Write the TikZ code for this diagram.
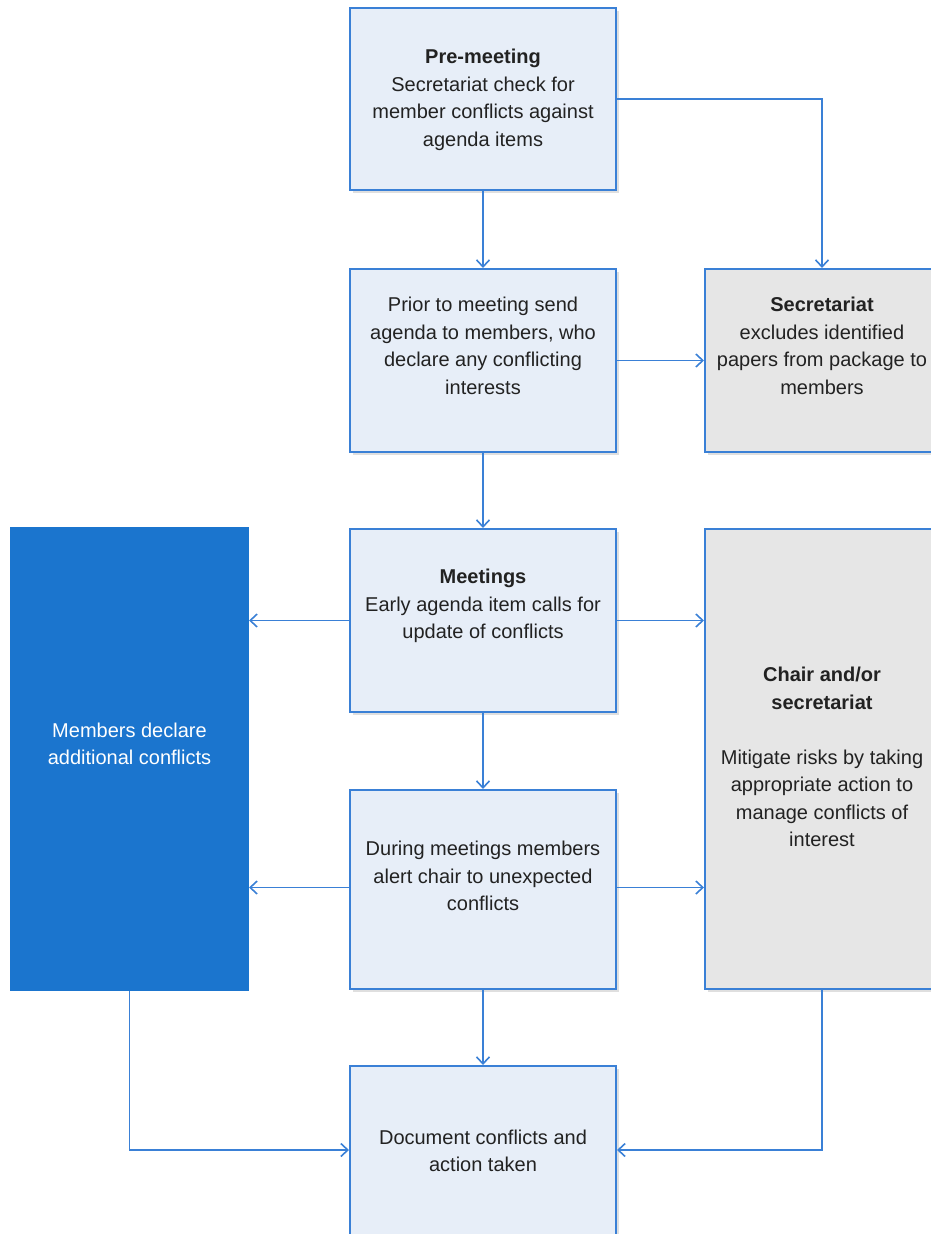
\documentclass[tikz,border=0pt]{standalone}
\usepackage{fontspec}
\setmainfont{Liberation Sans}
\usetikzlibrary{arrows.meta,shadows,calc}
\definecolor{lineblue}{HTML}{3A80D6}
\definecolor{lightfill}{HTML}{E7EEF8}
\definecolor{grayfill}{HTML}{E6E6E6}
\definecolor{darkblue}{HTML}{1B75CE}
\definecolor{txt}{HTML}{222222}
\begin{document}
\begin{tikzpicture}[x=1pt,y=-1pt,
  box/.style={draw=lineblue,line width=2pt,fill=lightfill,inner sep=0pt,
    drop shadow={shadow xshift=2.5pt,shadow yshift=-2.5pt,opacity=0.25,fill=gray}},
  graybox/.style={box,fill=grayfill},
  bluebox/.style={draw=darkblue,line width=2pt,fill=darkblue,inner sep=0pt},
  txtnode/.style={align=center,text=txt,inner sep=0pt,font=\fontsize{20}{27.5}\selectfont},
  conn/.style={draw=lineblue,line width=1.6pt,-{Straight Barb[length=7pt,width=13pt,line width=1.6pt]}}
]
\useasboundingbox (0,0) rectangle (931,1234);
% boxes
\node[box,minimum width=266pt,minimum height=182pt] (pre) at (483,99) {};
\node[box,minimum width=266pt,minimum height=183pt] (prior) at (483,360.5) {};
\node[graybox,minimum width=234pt,minimum height=183pt] (sec) at (822,360.5) {};
\node[box,minimum width=266pt,minimum height=183pt] (meet) at (483,620.5) {};
\node[bluebox,minimum width=237pt,minimum height=462pt] (mem) at (129.5,759) {};
\node[graybox,minimum width=234pt,minimum height=460pt] (chair) at (822,759) {};
\node[box,minimum width=266pt,minimum height=199pt] (dur) at (483,889.5) {};
\node[box,minimum width=266pt,minimum height=200pt] (doc) at (483,1166) {};
% texts
\node[txtnode] (preT) at (483,100) {\textbf{Pre-meeting}\\Secretariat check for\\member conflicts against\\agenda items};
\node[txtnode] (priorT) at (483,346) {Prior to meeting send\\agenda to members, who\\declare any conflicting\\interests};
\node[txtnode] (secT) at (822,346) {\textbf{Secretariat}\\excludes identified\\papers from package to\\members};
\node[txtnode] (meetT) at (483,606) {\textbf{Meetings}\\Early agenda item calls for\\update of conflicts};
\node[txtnode,text=white] (memT) at (129.5,744) {Members declare\\additional conflicts};
\node[txtnode] (chairT) at (822,757) {\textbf{Chair and/or}\\\textbf{secretariat}\\[27.5pt]Mitigate risks by taking\\appropriate action to\\manage conflicts of\\interest};
\node[txtnode] (durT) at (483,876) {During meetings members\\alert chair to unexpected\\conflicts};
\node[txtnode] (docT) at (483,1151) {Document conflicts and\\action taken};
% connectors
\draw[conn] (pre.south) -- (prior.north);
\draw[conn] (pre.east) -| (sec.north);
\draw[conn] (prior.east) -- (sec.west);
\draw[conn] (prior.south) -- (meet.north);
\draw[conn] (meet.west) -- (meet.west -| mem.east);
\draw[conn] (meet.east) -- (meet.east -| chair.west);
\draw[conn] (meet.south) -- (dur.north);
\draw[conn] ([yshift=2pt]dur.west) -- ([yshift=2pt]dur.west -| mem.east);
\draw[conn] ([yshift=2pt]dur.east) -- ([yshift=2pt]dur.east -| chair.west);
\draw[conn] (dur.south) -- (doc.north);
\draw[conn] (mem.south) |- ([yshift=16pt]doc.west);
\draw[conn] (chair.south) |- ([yshift=16pt]doc.east);
\end{tikzpicture}
\end{document}
